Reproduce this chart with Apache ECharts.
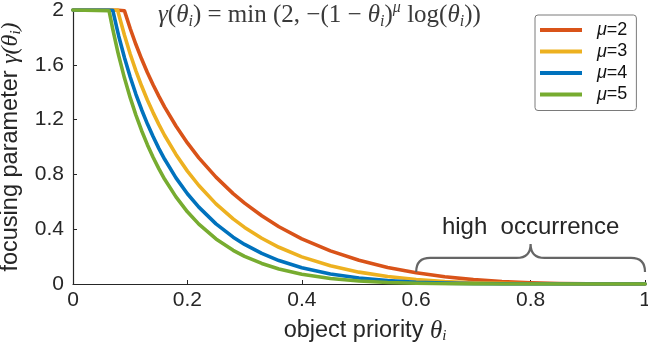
<!DOCTYPE html>
<html>
<head>
<meta charset="utf-8">
<script src="https://cdn.jsdelivr.net/npm/echarts@6/dist/echarts.min.js"></script>
<style>html,body{margin:0;padding:0;background:#fff;}#c{width:648px;height:344px;}</style>
</head>
<body>
<div id="c"></div>
<script>
// object priority θ (x values)
const theta = [0, 0.063, 0.0696, 0.078, 0.08, 0.09, 0.10, 0.11, 0.12, 0.13, 0.14, 0.15, 0.16, 0.18, 0.20, 0.22, 0.25, 0.28, 0.30, 0.33, 0.36, 0.40, 0.45, 0.50, 0.55, 0.60, 0.65, 0.70, 0.75, 0.80, 0.85, 0.90, 0.95, 1.00];
// focusing parameter γ read for each μ
const gammaMu2 = [2, 2, 2, 2, 2, 1.994, 1.865, 1.748, 1.642, 1.544, 1.454, 1.371, 1.293, 1.153, 1.030, 0.921, 0.780, 0.660, 0.590, 0.498, 0.418, 0.330, 0.2415, 0.173, 0.121, 0.0817, 0.0528, 0.0321, 0.0180, 0.0089, 0.0037, 0.0011, 0.0001, 0];
const gammaMu3 = [2, 2, 2, 2, 1.967, 1.815, 1.679, 1.556, 1.445, 1.343, 1.251, 1.165, 1.086, 0.946, 0.824, 0.719, 0.585, 0.475, 0.413, 0.334, 0.268, 0.198, 0.133, 0.0866, 0.0545, 0.0327, 0.0185, 0.0096, 0.0045, 0.0018, 0.0006, 0.0001, 0, 0];
const gammaMu4 = [2, 2, 1.997, 1.844, 1.809, 1.651, 1.511, 1.385, 1.272, 1.169, 1.076, 0.990, 0.912, 0.775, 0.659, 0.561, 0.439, 0.342, 0.289, 0.223, 0.171, 0.119, 0.0731, 0.0433, 0.0245, 0.0131, 0.0065, 0.0029, 0.0011, 0.0004, 0.0001, 0, 0, 0];
const gammaMu5 = [2, 1.995, 1.858, 1.700, 1.665, 1.503, 1.360, 1.233, 1.119, 1.017, 0.925, 0.842, 0.766, 0.636, 0.527, 0.437, 0.329, 0.246, 0.202, 0.150, 0.110, 0.0713, 0.0402, 0.0217, 0.0111, 0.0052, 0.0023, 0.0009, 0.0003, 0.0001, 0, 0, 0, 0];
const seriesNames = ['μ=2', 'μ=3', 'μ=4', 'μ=5'];
const seriesValues = [gammaMu2, gammaMu3, gammaMu4, gammaMu5];
const xTicks = [0, 0.2, 0.4, 0.6, 0.8, 1];
const yTicks = [0, 0.4, 0.8, 1.2, 1.6, 2];
// annotation: "high occurrence" span on θ
const braceSpan = [0.6, 1.0];
const annotationText = 'high  occurrence';

const colors = ['#D95319', '#EDB120', '#0072BD', '#77AC30'];
const axisColor = '#262626';
const sans = "'Liberation Sans', Arial, sans-serif";
const serif = "'Liberation Serif', 'Times New Roman', serif";

const chart = echarts.init(document.getElementById('c'), null, {renderer: 'canvas'});

const lineSeries = seriesNames.map((name, k) => ({
  name: name,
  type: 'line',
  data: theta.map((t, i) => [t, seriesValues[k][i]]),
  showSymbol: false,
  symbol: 'none',
  smooth: false,
  lineStyle: {width: 3.6, color: colors[k], cap: 'round', join: 'round'},
  itemStyle: {color: colors[k]},
  z: 2 + k,
  animation: false
}));

const braceSeries = {
  type: 'custom',
  name: 'brace',
  silent: true,
  clip: false,
  animation: false,
  data: [[(braceSpan[0] + braceSpan[1]) / 2, 0]],
  renderItem: function (params, api) {
    const mid = (braceSpan[0] + braceSpan[1]) / 2;
    const L = api.coord([braceSpan[0], 0.088]);
    const R = api.coord([braceSpan[1], 0.088]);
    const M = api.coord([mid, 0.292]);
    const yb = api.coord([mid, 0.19])[1];
    const T = api.coord([mid, 0.415]);
    const r = 14;
    const d = 'M' + L[0] + ',' + L[1] +
      ' Q' + L[0] + ',' + yb + ' ' + (L[0] + r) + ',' + yb +
      ' L' + (M[0] - r) + ',' + yb +
      ' Q' + M[0] + ',' + yb + ' ' + M[0] + ',' + M[1] +
      ' Q' + M[0] + ',' + yb + ' ' + (M[0] + r) + ',' + yb +
      ' L' + (R[0] - r) + ',' + yb +
      ' Q' + R[0] + ',' + yb + ' ' + R[0] + ',' + R[1];
    return {
      type: 'group',
      children: [
        {type: 'path', shape: {pathData: d}, style: {fill: null, stroke: '#666666', lineWidth: 2.2}},
        {type: 'text', x: T[0], y: T[1], style: {text: annotationText, fontFamily: sans, fontSize: 24, fill: '#262626', align: 'center', verticalAlign: 'middle'}}
      ]
    };
  },
  z: 10
};

const mathRich = {
  r: {fontFamily: serif, fontWeight: 'normal', fontSize: 25, color: '#3a3a3a', lineHeight: 30},
  i: {fontFamily: serif, fontWeight: 'normal', fontStyle: 'italic', fontSize: 25, color: '#3a3a3a', lineHeight: 30},
  s: {fontFamily: serif, fontWeight: 'normal', fontStyle: 'italic', fontSize: 16, color: '#3a3a3a', lineHeight: 16, verticalAlign: 'bottom'},
  p: {fontFamily: serif, fontWeight: 'normal', fontStyle: 'italic', fontSize: 16, color: '#3a3a3a', lineHeight: 16, verticalAlign: 'top'}
};

const option = {
  backgroundColor: '#ffffff',
  animation: false,
  title: {
    text: '{i|γ}{r|(}{i|θ}{s|i}{r|) = min (2, −(1 − }{i|θ}{s|i}{r|)}{p|μ}{r| log(}{i|θ}{s|i}{r|))}',
    left: 158,
    top: 0,
    padding: 0,
    textStyle: {fontWeight: 'normal', rich: mathRich}
  },
  legend: {
    data: seriesNames,
    orient: 'vertical',
    left: 535,
    top: 15,
    icon: 'rect',
    itemWidth: 42,
    itemHeight: 4,
    itemGap: 3.5,
    padding: [6, 9, 7, 5],
    borderColor: '#7a7a7a',
    borderWidth: 1,
    borderRadius: 3,
    backgroundColor: '#ffffff',
    formatter: function (name) { return '{it|μ}{n|' + name.slice(1) + '}'; },
    textStyle: {
      padding: [0, 0, 0, 10],
      rich: {
        it: {fontFamily: sans, fontStyle: 'italic', fontSize: 18, color: '#111', lineHeight: 18},
        n: {fontFamily: sans, fontSize: 18, color: '#111', lineHeight: 18}
      }
    },
    selectedMode: false
  },
  grid: {left: 73, right: 3, top: 10, bottom: 60, containLabel: false, outerBoundsMode: 'none'},
  xAxis: {
    type: 'value',
    min: 0, max: 1, interval: 0.2,
    name: '{t|object priority }{i|θ}{s|i}',
    nameLocation: 'middle',
    nameGap: 34,
    nameTextStyle: {
      padding: [0, 0, 0, 12],
      rich: {
        t: {fontFamily: sans, fontSize: 23.5, color: axisColor, lineHeight: 26},
        i: {fontFamily: serif, fontStyle: 'italic', fontSize: 25, color: axisColor, lineHeight: 26},
        s: {fontFamily: serif, fontStyle: 'italic', fontSize: 15, color: axisColor, lineHeight: 15, verticalAlign: 'bottom'}
      }
    },
    axisLine: {show: true, onZero: false, lineStyle: {color: axisColor, width: 1.2}},
    axisTick: {show: true, inside: true, length: 4, lineStyle: {color: axisColor}},
    axisLabel: {
      fontFamily: sans, fontSize: 21, color: axisColor, margin: 6,
      formatter: function (v) { return xTicks.indexOf(+v.toFixed(1)) >= 0 ? String(+v.toFixed(1)) : ''; }
    },
    splitLine: {show: false}
  },
  yAxis: {
    type: 'value',
    min: 0, max: 2, interval: 0.4,
    name: '{t|focusing parameter }{i|γ(θ}{s|i}{i|)}',
    nameLocation: 'middle',
    nameGap: 47,
    nameTextStyle: {
      rich: {
        t: {fontFamily: sans, fontSize: 23.5, color: axisColor, lineHeight: 26},
        i: {fontFamily: serif, fontStyle: 'italic', fontSize: 24, color: axisColor, lineHeight: 26},
        s: {fontFamily: serif, fontStyle: 'italic', fontSize: 15, color: axisColor, lineHeight: 15, verticalAlign: 'bottom'}
      }
    },
    axisLine: {show: true, onZero: false, lineStyle: {color: axisColor, width: 1.2}},
    axisTick: {show: true, inside: true, length: 4, lineStyle: {color: axisColor}},
    axisLabel: {
      fontFamily: sans, fontSize: 21, color: axisColor, margin: 9,
      formatter: function (v) { return yTicks.indexOf(+v.toFixed(1)) >= 0 ? String(+v.toFixed(1)) : ''; }
    },
    splitLine: {show: false}
  },
  series: lineSeries.concat([braceSeries])
};

chart.setOption(option);
</script>
</body>
</html>
